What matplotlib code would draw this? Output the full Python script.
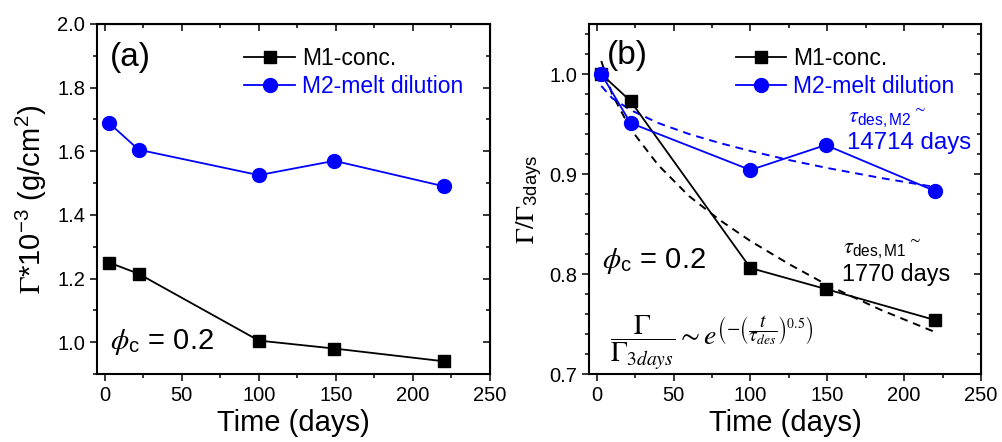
import matplotlib
matplotlib.use('Agg')
import matplotlib.pyplot as plt
from matplotlib.ticker import MultipleLocator

plt.rcParams['font.family'] = ['Liberation Sans', 'DejaVu Sans']
plt.rcParams['mathtext.fontset'] = 'stix'

# --- data ---
days = [3, 22, 100, 149, 220]
m1_gamma = [1.25, 1.215, 1.005, 0.98, 0.94]
m2_gamma = [1.688, 1.605, 1.525, 1.57, 1.49]
m1_norm = [1.0, 0.973, 0.806, 0.785, 0.754]
m2_norm = [1.0, 0.951, 0.904, 0.929, 0.883]

# stretched-exponential fit curves (dashed), read as points
fit_t = [3, 10, 22, 40, 60, 80, 100, 125, 150, 185, 220]
fit_m1 = [1.013, 0.980, 0.945, 0.909, 0.878, 0.854, 0.833, 0.810, 0.789, 0.764, 0.742]
fit_m2 = [0.988, 0.976, 0.964, 0.951, 0.940, 0.931, 0.923, 0.914, 0.906, 0.896, 0.887]

BLUE = '#0000ff'
W, H = 1002, 442

fig = plt.figure(figsize=(W / 100, H / 100), dpi=100)
ax_a = fig.add_axes([97 / W, 1 - 374 / H, 393 / W, 350 / H])
ax_b = fig.add_axes([589 / W, 1 - 374 / H, 392 / W, 350 / H])


def style_axes(ax, ymaj, ymin):
    ax.set_xlim(-5, 250)
    ax.xaxis.set_major_locator(MultipleLocator(50))
    ax.xaxis.set_minor_locator(MultipleLocator(25))
    ax.yaxis.set_major_locator(MultipleLocator(ymaj))
    ax.yaxis.set_minor_locator(MultipleLocator(ymin))
    ax.tick_params(which='both', direction='out', labelsize=14.5, width=1.1)
    ax.tick_params(which='major', length=5)
    ax.tick_params(which='minor', length=3)
    for s in ax.spines.values():
        s.set_linewidth(1.5)
    # mirrored ticks pointing inward on top and right
    top = ax.secondary_xaxis('top')
    top.xaxis.set_major_locator(MultipleLocator(50))
    top.xaxis.set_minor_locator(MultipleLocator(25))
    top.tick_params(which='both', direction='in', labeltop=False, width=1.1)
    top.tick_params(which='major', length=5)
    top.tick_params(which='minor', length=3)
    right = ax.secondary_yaxis('right')
    right.yaxis.set_major_locator(MultipleLocator(ymaj))
    right.yaxis.set_minor_locator(MultipleLocator(ymin))
    right.tick_params(which='both', direction='in', labelright=False, width=1.1)
    right.tick_params(which='major', length=5)
    right.tick_params(which='minor', length=3)
    ax.set_xlabel('Time (days)', fontsize=21, labelpad=3)


def add_legend(ax):
    ax.legend(loc='upper left', bbox_to_anchor=(0.375, 0.935), frameon=False,
              fontsize=16.5, handlelength=2.2, handletextpad=0.3,
              labelspacing=0.25, borderpad=0, borderaxespad=0,
              labelcolor=['black', BLUE])


# (a) absolute adsorbed amount
ax_a.plot(days, m1_gamma, '-s', color='black', lw=1.3, ms=9, label='M1-conc.')
ax_a.plot(days, m2_gamma, '-o', color=BLUE, lw=1.3, ms=10, label='M2-melt dilution')
ax_a.set_ylim(0.9, 2.0)
style_axes(ax_a, 0.2, 0.1)
ax_a.set_ylabel(r'$\Gamma$*10$^{\mathregular{-3}}$ (g/cm$^{\mathregular{2}}$)',
                fontsize=21, labelpad=6)
add_legend(ax_a)
ax_a.text(0.033, 0.903, '(a)', transform=ax_a.transAxes, fontsize=24, va='center')
ax_a.text(0.033, 0.071, r'$\phi_{\mathregular{c}}$ = 0.2', transform=ax_a.transAxes,
          fontsize=21, va='baseline')

# (b) normalised to 3 days
ax_b.plot(fit_t, fit_m1, '--', color='black', lw=1.4, dashes=(4, 3))
ax_b.plot(fit_t, fit_m2, '--', color=BLUE, lw=1.4, dashes=(4, 3))
ax_b.plot(days, m1_norm, '-s', color='black', lw=1.3, ms=9, label='M1-conc.')
ax_b.plot(days, m2_norm, '-o', color=BLUE, lw=1.3, ms=10, label='M2-melt dilution')
ax_b.set_ylim(0.7, 1.05)
style_axes(ax_b, 0.1, 0.02)
ax_b.set_ylabel(r'$\Gamma/\Gamma_{\mathregular{3days}}$', fontsize=19, labelpad=3)
add_legend(ax_b)
ax_b.text(0.046, 0.909, '(b)', transform=ax_b.transAxes, fontsize=24, va='center')
ax_b.text(0.033, 0.303, r'$\phi_{\mathregular{c}}$ = 0.2', transform=ax_b.transAxes,
          fontsize=21, va='baseline')
ax_b.text(0.661, 0.731, r'$\tau_{\mathregular{des,M2}}$$^{\sim}$', transform=ax_b.transAxes,
          fontsize=16, va='center', color=BLUE)
ax_b.text(0.658, 0.66, '14714 days', transform=ax_b.transAxes,
          fontsize=17.3, va='center', color=BLUE)
ax_b.text(0.648, 0.357, r'$\tau_{\mathregular{des,M1}}$$^{\sim}$', transform=ax_b.transAxes,
          fontsize=16, va='center')
ax_b.text(0.645, 0.283, '1770 days', transform=ax_b.transAxes,
          fontsize=16.8, va='center')
ax_b.text(0.054, 0.09,
          r'$\dfrac{\Gamma}{\Gamma_{3days}} \sim e^{\left(-\left(\dfrac{t}{\tau_{des}}\right)^{0.5}\right)}$',
          transform=ax_b.transAxes, fontsize=20, va='center')

fig.savefig('out.png', dpi=100)
